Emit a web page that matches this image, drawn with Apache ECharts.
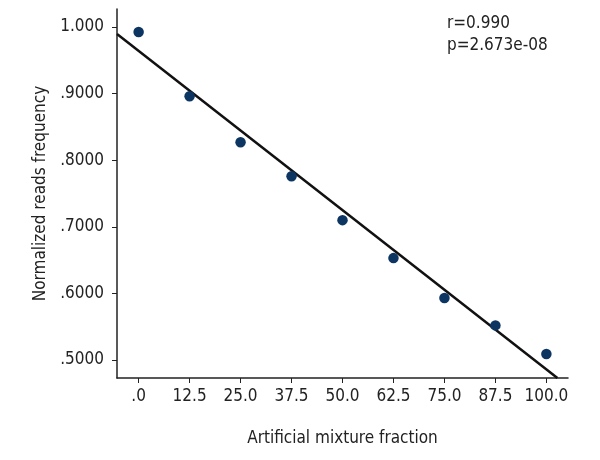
<!DOCTYPE html>
<html><head><meta charset="utf-8">
<script src="https://cdn.jsdelivr.net/npm/echarts@6/dist/echarts.min.js"></script>
<style>html,body{margin:0;padding:0;background:#fff}#c{width:600px;height:460px}</style>
</head><body><div id="c"></div>
<script>
const fractions = [0, 12.5, 25, 37.5, 50, 62.5, 75, 87.5, 100];
const readsFreq = [0.9925, 0.896, 0.827, 0.776, 0.710, 0.653, 0.593, 0.552, 0.509];
const fitX = [-5.3, 102.7];
const fitY = [0.9895, 0.473];
const xTicks = [0, 12.5, 25, 37.5, 50, 62.5, 75, 87.5, 100];
const yTicks = [0.5, 0.6, 0.7, 0.8, 0.9, 1.0];
const statText = ['r=0.990', 'p=2.673e-08'];

const FONT = '"DejaVu Sans Condensed", "Liberation Sans Narrow", sans-serif';
const chart = echarts.init(document.getElementById('c'));
chart.setOption({
  animation: false,
  backgroundColor: '#fff',
  grid: {left: 117, right: 32, top: 9, bottom: 82, containLabel: false},
  xAxis: {
    type: 'value', min: -5.3, max: 105.3,
    name: 'Artificial mixture fraction', nameLocation: 'middle', nameGap: 52,
    nameTextStyle: {fontFamily: FONT, fontSize: 17, color: '#222'},
    axisLine: {show: true, onZero: false, lineStyle: {color: '#222', width: 1.5}},
    axisTick: {show: true, length: 5, customValues: xTicks, lineStyle: {color: '#222'}},
    axisLabel: {customValues: xTicks, margin: 10, fontFamily: FONT, fontSize: 17, color: '#222',
      formatter: v => v === 0 ? '.0' : v.toFixed(1)},
    splitLine: {show: false}
  },
  yAxis: {
    type: 'value', min: 0.473, max: 1.027,
    name: 'Normalized reads frequency', nameLocation: 'middle', nameGap: 67,
    nameTextStyle: {fontFamily: FONT, fontSize: 17, color: '#222'},
    axisLine: {show: true, onZero: false, lineStyle: {color: '#222', width: 1.5}},
    axisTick: {show: true, length: 5, customValues: yTicks, lineStyle: {color: '#222'}},
    axisLabel: {customValues: yTicks, margin: 13, fontFamily: FONT, fontSize: 17, color: '#222',
      formatter: v => v >= 0.9999 ? '1.000' : '.' + v.toFixed(4).slice(2)},
    splitLine: {show: false}
  },
  graphic: [{
    type: 'text', left: 447, top: 13,
    style: {text: statText.join('\n'), fontFamily: FONT, fontSize: 17, lineHeight: 22, fill: '#222'}
  }],
  series: [{
    type: 'line', data: fitX.map((x, i) => [x, fitY[i]]), showSymbol: false, symbol: 'none',
    lineStyle: {color: '#111', width: 2.5}, clip: true, z: 2
  }, {
    type: 'scatter', data: fractions.map((x, i) => [x, readsFreq[i]]),
    symbolSize: 10.5, itemStyle: {color: '#0d3562', opacity: 1}, z: 3
  }]
});
</script></body></html>
